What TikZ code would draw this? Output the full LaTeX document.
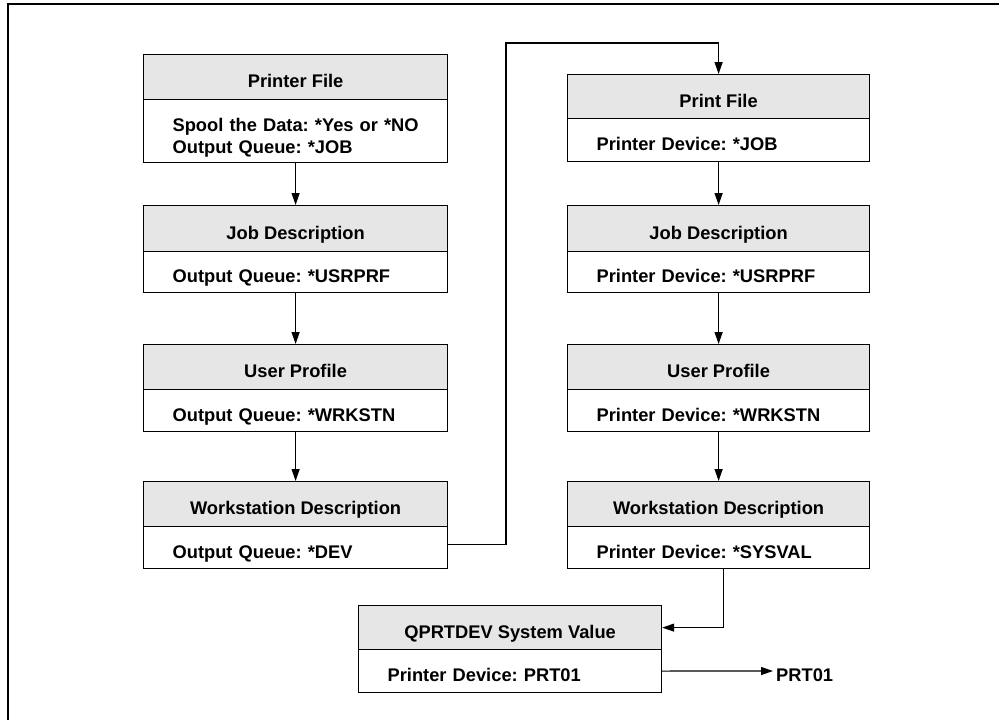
\documentclass[tikz,border=0pt]{standalone}
\usepackage{fontspec}
\setmainfont{Liberation Sans}
\usetikzlibrary{arrows.meta}
\definecolor{hdrgray}{RGB}{230,230,230}
\begin{document}
\begin{tikzpicture}[x=1pt,y=-1pt,
  every node/.style={font=\fontsize{18.3}{22}\selectfont\bfseries\frenchspacing},
  hdr/.style={draw, line width=1.2pt, fill=hdrgray, anchor=north west, inner sep=0pt, align=center, text height=21pt, text depth=0pt},
  bdy/.style={draw, line width=1.2pt, fill=white, anchor=north west, inner xsep=29pt, inner ysep=0pt, align=left, text height=21pt, text depth=0pt},
  conn/.style={line width=1.2pt, -{Triangle[width=8pt,length=12pt]}},
  plain/.style={line width=1.2pt}]
\useasboundingbox (0,0) rectangle (999,720);
% frame
\draw[line width=2.5pt] (999,4) -- (8,4) -- (8,720);

% left column
\node[hdr, minimum width=304pt, minimum height=45pt] (lph) at (143,54) {Printer File};
\node[bdy, text width=246pt, minimum height=63pt, text height=0pt] (lpb) at (143,99) {\mbox{Spool the Data: *Yes or *NO}\\\mbox{Output Queue: *JOB}};
\node[hdr, minimum width=304pt, minimum height=46pt] (ljh) at (143,205) {Job Description};
\node[bdy, text width=246pt, minimum height=41pt] (ljb) at (143,251) {Output Queue: *USRPRF};
\node[hdr, minimum width=304pt, minimum height=45pt] (luh) at (143,344) {User Profile};
\node[bdy, text width=246pt, minimum height=42pt] (lub) at (143,389) {Output Queue: *WRKSTN};
\node[hdr, minimum width=304pt, minimum height=45pt] (lwh) at (143,481) {Workstation Description};
\node[bdy, text width=246pt, minimum height=42pt] (lwb) at (143,526) {Output Queue: *DEV};

% right column
\node[hdr, minimum width=302pt, minimum height=44pt] (rph) at (567,74) {Print File};
\node[bdy, text width=244pt, minimum height=43pt] (rpb) at (567,118) {Printer Device: *JOB};
\node[hdr, minimum width=302pt, minimum height=46pt] (rjh) at (567,205) {Job Description};
\node[bdy, text width=244pt, minimum height=41pt] (rjb) at (567,251) {Printer Device: *USRPRF};
\node[hdr, minimum width=302pt, minimum height=45pt] (ruh) at (567,344) {User Profile};
\node[bdy, text width=244pt, minimum height=42pt] (rub) at (567,389) {Printer Device: *WRKSTN};
\node[hdr, minimum width=302pt, minimum height=45pt] (rwh) at (567,481) {Workstation Description};
\node[bdy, text width=244pt, minimum height=42pt] (rwb) at (567,526) {Printer Device: *SYSVAL};

% QPRTDEV
\node[hdr, minimum width=303pt, minimum height=44pt] (qh) at (358,605) {QPRTDEV System Value};
\node[bdy, text width=245pt, minimum height=43pt] (qb) at (358,649) {Printer Device: PRT01};
\node[anchor=west, inner sep=0pt, text height=21pt, text depth=0pt] (prt) at (776,671) {PRT01};

% connectors
\draw[conn] (lpb.south) -- (ljh.north);
\draw[conn] (ljb.south) -- (luh.north);
\draw[conn] (lub.south) -- (lwh.north);
\coordinate (c1) at (506,43);
\draw[conn] ([yshift=3pt]lwb.east) -| (c1) -| (rph.north);
\draw[conn] (rpb.south) -- (rjh.north);
\draw[conn] (rjb.south) -- (ruh.north);
\draw[conn] (rub.south) -- (rwh.north);
\draw[conn] ([xshift=5pt]rwb.south) |- (qh.east);
\draw[conn] (qb.east) -- ([xshift=-3pt]prt.west);
\end{tikzpicture}
\end{document}
